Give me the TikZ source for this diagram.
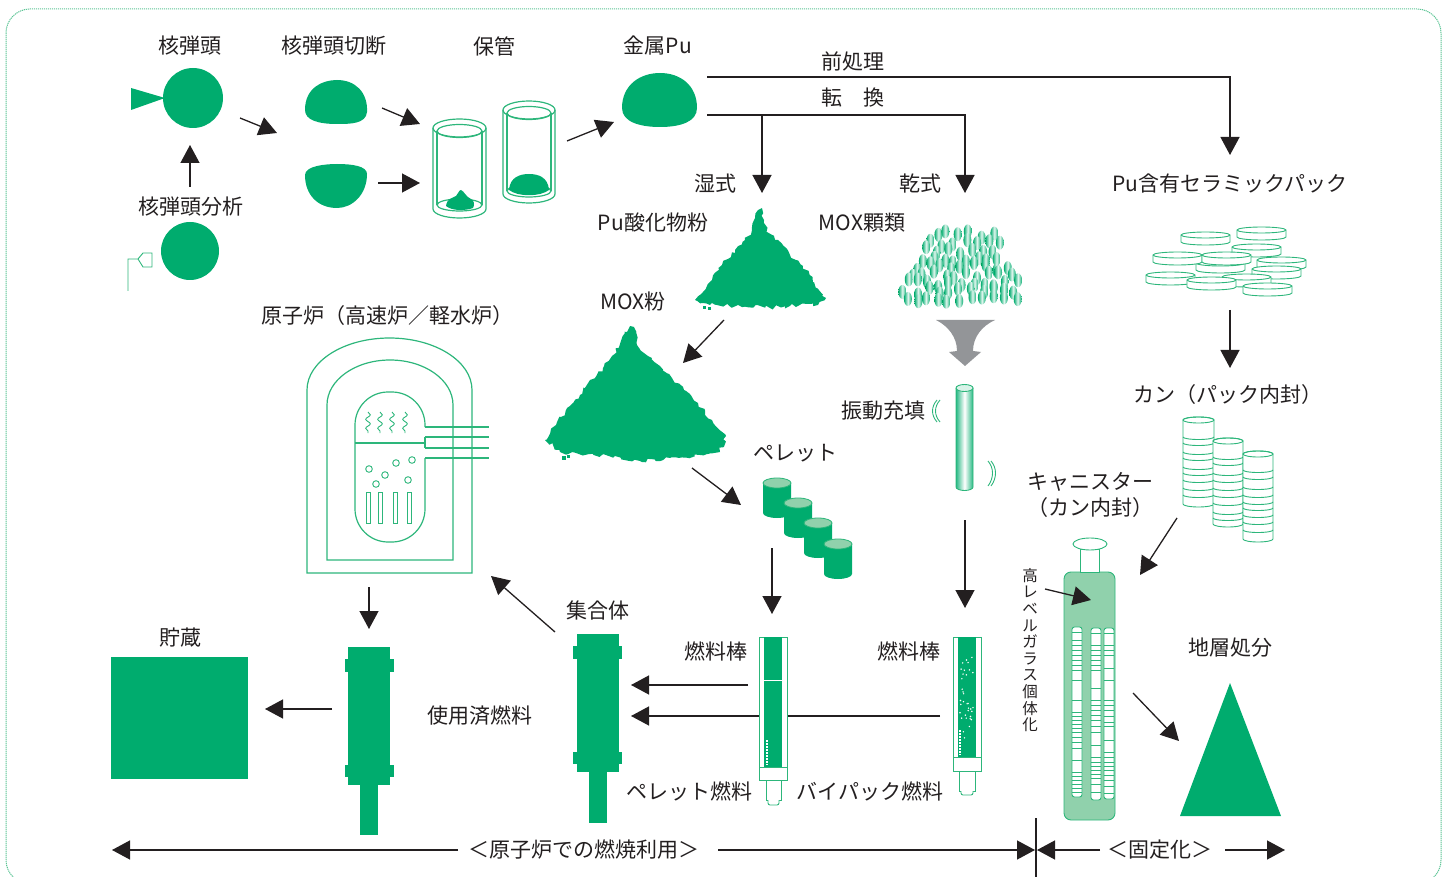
\documentclass[tikz,border=0pt]{standalone}
\usepackage{fontspec}
\setmainfont{Noto Sans CJK JP}
\usetikzlibrary{arrows.meta,decorations.pathmorphing}
\definecolor{gr}{HTML}{00AC6E}
\definecolor{gl}{HTML}{2DB67B}
\definecolor{lg}{HTML}{90D1AC}
\definecolor{ink}{HTML}{231F20}
\definecolor{fg}{HTML}{939598}
\definecolor{bd}{HTML}{5CC495}

% lower (front) half of an ellipse: centre x, centre y, rx, ry; runs left end -> right end
\newcommand\botarc[4]{.. controls ({#1-#3},{#2+0.5523*#4}) and ({#1-0.5523*#3},{#2+#4}) .. ({#1},{#2+#4}) .. controls ({#1+0.5523*#3},{#2+#4}) and ({#1+#3},{#2+0.5523*#4}) .. ({#1+#3},{#2})}
% upper half of an ellipse: runs right end -> left end
\newcommand\toparc[4]{.. controls ({#1+#3},{#2-0.5523*#4}) and ({#1+0.5523*#3},{#2-#4}) .. ({#1},{#2-#4}) .. controls ({#1-0.5523*#3},{#2-#4}) and ({#1-#3},{#2-0.5523*#4}) .. ({#1-#3},{#2})}
% flat ceramic disc, top-left corner x, y
\newcommand\disc[2]{%
  \filldraw[gthin, fill=white] (#1,{#2+3}) -- (#1,{#2+10}) \botarc{#1+24.5}{#2+10}{24.5}{3} -- ({#1+49},{#2+3}) \toparc{#1+24.5}{#2+3}{24.5}{3} -- cycle;
  \draw[gthin] (#1,{#2+3}) \botarc{#1+24.5}{#2+3}{24.5}{3};}
% stack of cans: centre x, rx, top y, bottom y, ring heights
\newcommand\canstack[5]{%
  \filldraw[gthin, fill=white] ({#1-#2},#3) -- ({#1-#2},#4) \botarc{#1}{#4}{#2}{3} -- ({#1+#2},#3) \toparc{#1}{#3}{#2}{3} -- cycle;
  \draw[gthin] (#1,#3) ellipse [x radius=#2, y radius=3];
  \foreach \q in {#5}{\draw[gthin] ({#1-#2},\q) \botarc{#1}{\q}{#2}{2.5};}}
% glass tube inside the canister: x1, x2, top, bottom, rings
\newcommand\gtube[5]{%
  \filldraw[gthin, fill=white, rounded corners=2.5pt] (#1,#3) rectangle (#2,#4);
  \foreach \q in {#5}{\draw[gthin] (#1,\q) -- (#2,\q);}}
% MOX pellet: centre x, top y, bottom y
\newcommand\pellet[3]{%
  \fill[gr] ({#1-14},#2) -- ({#1-14},#3) \botarc{#1}{#3}{14}{5} -- ({#1+14},#2) \toparc{#1}{#2}{14}{5} -- cycle;
  \filldraw[draw=gl, fill=lg, line width=0.8pt] (#1,#2) ellipse [x radius=14, y radius=5];}

\begin{document}
\begin{tikzpicture}[x=1pt,y=-1pt,
  lbl/.style={font=\fontsize{21}{24}\selectfont, text=ink, inner sep=0pt},
  arr/.style={draw=ink, line width=1.3pt, -{Triangle[length=18pt,width=19pt]}},
  plain/.style={draw=ink, line width=1.3pt},
  gline/.style={draw=gl, line width=1.2pt},
  gthin/.style={draw=gl, line width=0.9pt},
  pile/.style={fill=gr, decorate, decoration={random steps, segment length=3.5pt, amplitude=2.2pt}},
  granule/.style={left color=gr, right color=gr, middle color=gr!12}]
\useasboundingbox (0,0) rectangle (1449,877);

% frame
\begin{scope}
  \clip (0,0) rectangle (1449,877);
  \draw[bd, line width=1pt, dash pattern=on 1.2pt off 0.8pt, rounded corners=24pt] (6,9) rectangle (1441,884);
\end{scope}

% ---------- warheads ----------
\node[lbl] (tWar) at (190,46) {核弾頭};
\fill[gr] (131,88) -- (165,98) -- (131,110) -- cycle;
\fill[gr] (193,98) circle [radius=30];
\node[lbl] (tAna) at (191,207) {核弾頭分析};
\fill[gr] (190,251) circle [radius=29];
\draw[gthin] (128,291) -- (128,259) -- (138,259) -- (143,253) -- (152,253) -- (152,267) -- (143,267) -- (138,259);

\node[lbl] (tCut) at (334,46) {核弾頭切断};
\fill[gr] (305,110) .. controls (305,88) and (322,80) .. (337,80) .. controls (355,80) and (368,92) .. (367,112) .. controls (366,124) and (350,124) .. (337,124) .. controls (318,124) and (305,120) .. (305,110) -- cycle;
\fill[gr] (305,175) .. controls (305,166) and (325,164) .. (337,164) .. controls (352,164) and (367,166) .. (367,174) .. controls (367,195) and (352,208) .. (337,208) .. controls (318,208) and (305,195) .. (305,175) -- cycle;

% ---------- storage ----------
\node[lbl] (tSto) at (494,46) {保管};
\draw[gline] (433,128) -- (433,209) \botarc{459.5}{209}{26.5}{9} -- (486,128);
\draw[gline] (437,131) -- (437,205);
\draw[gline] (482,131) -- (482,205);
\draw[gline] (459.5,205) ellipse [x radius=22.5, y radius=6];
\draw[gline] (459.5,128) ellipse [x radius=26.5, y radius=9];
\draw[gline] (459.5,131) ellipse [x radius=22.5, y radius=6.5];
\fill[gr] (446,206) .. controls (447,198) and (453,198) .. (456,196) .. controls (458,194) and (459,190) .. (461,190) .. controls (464,191) and (466,197) .. (471,199) .. controls (474,200) and (475,205) .. (473,208) .. controls (465,211) and (452,211) .. (446,206) -- cycle;

\draw[gline] (503,110) -- (503,194) \botarc{529}{194}{26}{9} -- (555,110);
\draw[gline] (507,113) -- (507,191);
\draw[gline] (551,113) -- (551,191);
\draw[gline] (529,191) ellipse [x radius=22, y radius=6];
\draw[gline] (529,110) ellipse [x radius=26, y radius=9];
\draw[gline] (529,113) ellipse [x radius=22, y radius=6.5];
\fill[gr] (509,190) .. controls (510,177) and (520,174) .. (529,174) .. controls (538,174) and (548,177) .. (549,190) .. controls (540,197) and (518,197) .. (509,190) -- cycle;

% ---------- metal Pu ----------
\node[lbl] (tPu) at (658,46) {金属Pu};
\fill[gr] (622,108) .. controls (622,85) and (640,73) .. (660,73) .. controls (680,73) and (697,85) .. (697,108) .. controls (697,122) and (680,127) .. (660,127) .. controls (640,127) and (622,122) .. (622,108) -- cycle;

\node[lbl] (tPre) at (853,61) {前処理};
\node[lbl] (tCon) at (853,98) {転　換};
\node[lbl] (tWet) at (715,184) {湿式};
\node[lbl] (tDry) at (920,184) {乾式};
\node[lbl] (tCer) at (1230,184) {Pu含有セラミックパック};
\node[lbl] (tOx) at (653,223) {Pu酸化物粉};
\node[lbl] (tGr) at (862,223) {MOX顆類};
\node[lbl] (tMp) at (633,302) {MOX粉};

% Pu oxide powder
\pgfmathsetseed{11}
\path[pile] (695,300) -- (712,280) -- (722,265) -- (735,250) -- (745,240) -- (752,230) -- (755,218) -- (758,210) -- (762,208) -- (764,220) -- (767,232) -- (778,240) -- (790,255) -- (803,266) -- (814,282) -- (826,298) -- (818,305) -- (790,306) -- (770,308) -- (740,306) -- (710,305) -- cycle;
\fill[gr] (703,306) rectangle (706,309);
\fill[gr] (708,307) rectangle (711,310);

% MOX granules
\pgfmathsetseed{5}
\foreach \r in {0,...,8}{
  \pgfmathsetmacro\yy{235+\r*8}
  \pgfmathsetmacro\hw{min(60, 28+\r*5)}
  \pgfmathsetmacro\nc{int(2*\hw/11)}
  \foreach \c in {0,...,\nc}{
    \pgfmathsetmacro\xx{965-\hw+\c*11+rand*3}
    \pgfmathsetmacro\yj{\yy+rand*4}
    \shade[granule] (\xx,\yj) ellipse [x radius=4, y radius=7];
  }
}

% funnel
\fill[fg] (936,320) -- (995,320) .. controls (982,326) and (973,337) .. (973,351) -- (981,352) -- (965,366) -- (949,352) -- (957,351) .. controls (957,337) and (948,326) .. (936,320) -- cycle;

% vibro-packing tube
\node[lbl] (tVib) at (883,411) {振動充填};
\shade[left color=gr!85, right color=gr!85, middle color=white] (956,388) -- (956,487) \botarc{964.5}{487}{8.5}{3.5} -- (973,388) \toparc{964.5}{388}{8.5}{3.5} -- cycle;
\draw[gthin] (956,388) -- (956,487) \botarc{964.5}{487}{8.5}{3.5} -- (973,388);
\filldraw[gthin, fill=white!85!gr] (964.5,388) ellipse [x radius=8.5, y radius=3.5];
\draw[gthin] (937,400) .. controls (931,407) and (931,415) .. (937,422);
\draw[gthin] (940,400) .. controls (934,407) and (934,415) .. (940,422);
\draw[gthin] (988,461) .. controls (994,468) and (994,478) .. (988,486);
\draw[gthin] (991,461) .. controls (997,468) and (997,478) .. (991,486);

% MOX powder
\pgfmathsetseed{23}
\path[pile] (545,440) -- (556,425) -- (567,408) -- (580,395) -- (590,380) -- (603,368) -- (612,356) -- (620,344) -- (624,332) -- (630,326) -- (634,327) -- (637,345) -- (648,356) -- (660,366) -- (672,378) -- (684,390) -- (698,403) -- (712,420) -- (726,436) -- (720,452) -- (700,455) -- (670,458) -- (640,461) -- (615,456) -- (585,455) -- (560,452) -- cycle;
\fill[gr] (562,456) rectangle (566,460);
\fill[gr] (567,455) rectangle (570,458);

% pellets
\node[lbl] (tPel) at (795,453) {ペレット};
\pellet{777}{483}{513}
\pellet{798}{503}{533}
\pellet{818}{523}{553}
\pellet{838}{544}{574}

% ceramic packs
\disc{1237}{227}
\disc{1181}{232}
\disc{1232}{244}
\disc{1196}{260}
\disc{1153}{252}
\disc{1202}{252}
\disc{1257}{257}
\disc{1252}{266}
\disc{1146}{272}
\disc{1222}{274}
\disc{1187}{277}
\disc{1243}{283}

% cans
\node[lbl] (tCan) at (1228,395) {カン（パック内封）};
\canstack{1198.5}{15.5}{420}{504}{437,443,452,458,467,473,480,488,495}
\canstack{1228}{15}{441}{524}{457,463,473,480,488,495,503,512,518}
\canstack{1258}{15}{454}{539}{470,477,487,495,502,508,515,522,530}

% canister
\node[lbl] (tCs1) at (1090,482) {キャニスター};
\node[lbl] (tCs2) at (1090,508) {（カン内封）};
\filldraw[gthin, fill=lg, rounded corners=7pt] (1064,572) rectangle (1115,820);
\filldraw[gthin, fill=white] (1080,549) rectangle (1099,572);
\filldraw[gthin, fill=white] (1090,544) ellipse [x radius=17, y radius=6];
\gtube{1072}{1082}{627}{797}{632,640,645,650,655,660,665,670,680,700,712,716,720,724,728,732,737,742,748,760,772,776,780,784,788,792}
\gtube{1091}{1101}{628}{800}{633,645,650,655,660,665,670,688,700,705,710,715,720,726,732,745,757,762,766,770,774,778,784,792}
\gtube{1104}{1114}{628}{799}{633,645,650,655,668,680,700,705,710,716,722,726,740,752,757,762,766,770,775,780,786,793}
\node[lbl, font=\fontsize{15.5}{16.6}\selectfont, align=center] (tHlw) at (1030,650) {高\\レ\\ベ\\ル\\ガ\\ラ\\ス\\個\\体\\化};

% disposal
\node[lbl] (tGeo) at (1230,648) {地層処分};
\fill[gr] (1230,683) -- (1281,816) -- (1180,816) -- cycle;

% ---------- reactor ----------
\node[lbl] (tRea) at (387,316) {原子炉（高速炉／軽水炉）};
\draw[gline] (307,573) -- (472,573) -- (472,390) \toparc{389.5}{390}{82.5}{52} -- cycle;
\draw[gline] (327,560) -- (453,560) -- (453,405) \toparc{390}{405}{63}{45} -- cycle;
\draw[gline, rounded corners=33pt] (425,427) -- (425,392) -- (355,392) -- (355,542) -- (425,542) -- (425,458);
\draw[gline] (355,443) -- (425,443);
\draw[gline] (425,427) -- (489,427);
\draw[gline] (425,437) -- (489,437);
\draw[gline] (425,448) -- (489,448);
\draw[gline] (425,437) -- (425,448);
\draw[gline] (425,458) -- (489,458);
\foreach \sx in {368,380,392,405}{
  \draw[gthin, decorate, decoration={snake, amplitude=2.3pt, segment length=9pt}] (\sx,412) -- (\sx,433);}
\foreach \cx/\cy in {369/469,385/475,376/484,396/463,412/460,408/480}{
  \draw[gthin] (\cx,\cy) circle [radius=3.3];}
\foreach \rx in {366,378,393,407}{
  \draw[gthin] (\rx,492) rectangle ({\rx+4},523);}

% fuel assemblies
\fill[gr] (348,647) rectangle (390,785);
\fill[gr] (345,659) rectangle (394,672);
\fill[gr] (345,765) rectangle (394,777);
\fill[gr] (360,785) rectangle (378,835);
\node[lbl] (tSet) at (598,611) {集合体};
\fill[gr] (577,634) rectangle (619,772);
\fill[gr] (573,646) rectangle (622,659);
\fill[gr] (573,752) rectangle (622,764);
\fill[gr] (589,772) rectangle (607,823);
\node[lbl] (tSpt) at (480,716) {使用済燃料};

% storage
\node[lbl] (tKeep) at (180,638) {貯蔵};
\fill[gr] (111,657) rectangle (248,779);

% ---------- connectors ----------
\coordinate (a1s) at (240,118); \coordinate (a1e) at (277,133);
\coordinate (a2s) at (190,187); \coordinate (a2e) at (190,145);
\coordinate (a3s) at (382,108); \coordinate (a3e) at (420,124);
\coordinate (a4s) at (378,183); \coordinate (a4e) at (420,183);
\coordinate (a5s) at (567,141); \coordinate (a5e) at (614,122);
\coordinate (b1s) at (707,77);  \coordinate (b1e) at (1230,155);
\coordinate (b2s) at (707,115); \coordinate (b2e) at (965,193);
\coordinate (b3s) at (762,115); \coordinate (b3e) at (762,193);
\coordinate (c1s) at (724,320); \coordinate (c1e) at (683,363);
\coordinate (c2s) at (692,468); \coordinate (c2e) at (741,505);
\coordinate (c3s) at (772,548); \coordinate (c3e) at (772,614);
\coordinate (c4s) at (965,520); \coordinate (c4e) at (965,608);
\coordinate (c5s) at (1230,310); \coordinate (c5e) at (1230,368);
\coordinate (c6s) at (1177,518); \coordinate (c6e) at (1140,575);
\coordinate (c7s) at (1045,589); \coordinate (c7e) at (1091,600);
\coordinate (c8s) at (1133,693); \coordinate (c8e) at (1179,741);
\coordinate (d1s) at (748,685); \coordinate (d1e) at (631,685);
\coordinate (d2s) at (940,716); \coordinate (d2e) at (631,716);
\coordinate (d3s) at (555,632); \coordinate (d3e) at (491,576);
\coordinate (d4s) at (369,587); \coordinate (d4e) at (369,629);
\coordinate (d5s) at (332,709); \coordinate (d5e) at (265,709);

\draw[arr] (a1s) -- (a1e);
\draw[arr] (a2s) -- (a2e);
\draw[arr] (a3s) -- (a3e);
\draw[arr] (a4s) -- (a4e);
\draw[arr] (a5s) -- (a5e);
\draw[arr] (b1s) -| (b1e);
\draw[arr] (b2s) -| (b2e);
\draw[arr] (b3s) -- (b3e);
\draw[arr] (c1s) -- (c1e);
\draw[arr] (c2s) -- (c2e);
\draw[arr] (c3s) -- (c3e);
\draw[arr] (c4s) -- (c4e);
\draw[arr] (c5s) -- (c5e);
\draw[arr] (c6s) -- (c6e);
\draw[arr] (c7s) -- (c7e);
\draw[arr] (c8s) -- (c8e);
\draw[arr] (d1s) -- (d1e);
\draw[arr] (d2s) -- (d2e);
\draw[arr] (d3s) -- (d3e);
\draw[arr] (d4s) -- (d4e);
\draw[arr] (d5s) -- (d5e);

% ---------- fuel rods ----------
\node[lbl] (tRod1) at (716,651) {燃料棒};
\node[lbl] (tRod2) at (909,651) {燃料棒};
\node[lbl] (tPf) at (689,791) {ペレット燃料};
\node[lbl] (tVf) at (870,791) {バイパック燃料};
% pellet rod
\filldraw[gthin, fill=white] (759,637) rectangle (787,780);
\fill[gr] (764,637) rectangle (782,767);
\draw[white, line width=1pt] (764,680) -- (782,680);
\draw[white, line width=1.2pt, dash pattern=on 2pt off 1pt] (767,740) -- (767,765);
\draw[gthin] (759,767) -- (787,767);
\filldraw[gthin, fill=white] (766,780) rectangle (781,800);
\filldraw[gthin, fill=white, rounded corners=2pt] (768,800) -- (768,805) -- (779,805) -- (779,800);
% vipac rod
\filldraw[gthin, fill=white] (953,637) rectangle (981,771);
\fill[gr] (958,637) rectangle (976,757);
\pgfmathsetseed{9}
\foreach \i in {1,...,34}{
  \pgfmathsetmacro\xx{967+rand*7}
  \pgfmathsetmacro\yy{690+rand*48}
  \fill[white] (\xx,\yy) circle [radius=0.8];}
\draw[white, line width=1.2pt, dash pattern=on 2pt off 1pt] (960,730) -- (960,755);
\draw[gthin] (953,757) -- (981,757);
\filldraw[gthin, fill=white] (959,771) rectangle (975,791);
\filldraw[gthin, fill=white, rounded corners=2pt] (961,791) -- (961,795) -- (973,795) -- (973,791);

% ---------- bottom scale ----------
\node[lbl] (tUse) at (584,850) {＜原子炉での燃焼利用＞};
\node[lbl] (tFix) at (1160,850) {＜固定化＞};
\coordinate (e1s) at (458,850); \coordinate (e1e) at (112,850);
\coordinate (e2s) at (718,850); \coordinate (e2e) at (1035,850);
\coordinate (e3s) at (1100,850); \coordinate (e3e) at (1037,850);
\coordinate (e4s) at (1225,850); \coordinate (e4e) at (1285,850);
\coordinate (v1) at (1036,818); \coordinate (v2) at (1036,877);
\draw[arr] (e1s) -- (e1e);
\draw[arr] (e2s) -- (e2e);
\draw[arr] (e3s) -- (e3e);
\draw[arr] (e4s) -- (e4e);
\draw[plain] (v1) -- (v2);
\end{tikzpicture}
\end{document}
